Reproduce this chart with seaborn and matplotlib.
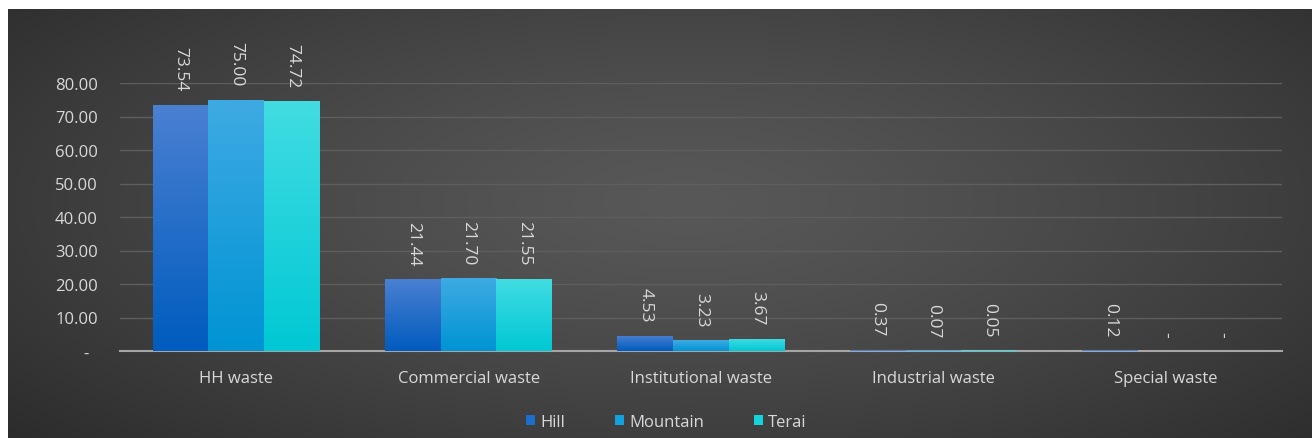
import numpy as np
import pandas as pd
import matplotlib
matplotlib.use("Agg")
import matplotlib.pyplot as plt
from matplotlib.colors import LinearSegmentedColormap
from matplotlib.patches import Patch
import seaborn as sns

categories = ["HH waste", "Commercial waste", "Institutional waste", "Industrial waste", "Special waste"]
series = ["Hill", "Mountain", "Terai"]
hill = [73.54, 21.44, 4.53, 0.37, 0.12]
mountain = [75.00, 21.70, 3.23, 0.07, 0.00]
terai = [74.72, 21.55, 3.67, 0.05, 0.00]
yticks = [0, 10, 20, 30, 40, 50, 60, 70, 80]

df = pd.DataFrame({
    "category": categories * 3,
    "region": [s for s in series for _ in categories],
    "value": hill + mountain + terai,
})

sns.set_theme(style="white")
plt.rcParams["font.family"] = ["Open Sans", "DejaVu Sans"]

W, H = 1312, 439
fig = plt.figure(figsize=(W / 100, H / 100), dpi=100)
fig.patch.set_facecolor("white")

# background with radial gradient
bg = fig.add_axes([8 / W, 0, 1 - 8 / W, 1 - 10 / H], zorder=-5)
yy, xx = np.mgrid[0:1:300j, 0:1:900j]
r = np.sqrt(((xx - 0.52) / 0.75) ** 2 + ((yy - 0.45) / 0.9) ** 2)
r = np.clip(r, 0, 1)
light = np.array([0x58, 0x58, 0x58]) / 255
dark = np.array([0x27, 0x27, 0x27]) / 255
img = light[None, None, :] * (1 - r[..., None] ** 1.3) + dark[None, None, :] * (r[..., None] ** 1.3)
bg.imshow(img, aspect="auto", extent=[0, 1, 0, 1], origin="upper")
bg.set_axis_off()

ax = fig.add_axes([120 / W, 1 - 352 / H, (1282 - 120) / W, (352 - 84) / H])
ax.set_facecolor("none")

palette = {"Hill": "#1a6fcc", "Mountain": "#12a2dd", "Terai": "#14d3dc"}
grads = {
    "Hill": ("#4a80d2", "#005cbe"),
    "Mountain": ("#3eaae3", "#0094d4"),
    "Terai": ("#42dce2", "#00c8d4"),
}
sns.barplot(data=df, x="category", y="value", hue="region", order=categories,
            hue_order=series, palette=palette, width=0.72, ax=ax, legend=False,
            saturation=1, linewidth=0)

ax.set_ylim(0, 80)
ax.set_xlim(-0.5, len(categories) - 0.5)

# gradients on bars, labels
for cont, s in zip(ax.containers, series):
    cmap = LinearSegmentedColormap.from_list(s, [grads[s][1], grads[s][0]])
    for bar, v in zip(cont, df[df.region == s]["value"]):
        x0 = bar.get_x()
        w = bar.get_width()
        h = bar.get_height()
        bar.set_zorder(3)
        if h > 1.0:
            grad = np.linspace(0, 1, 100).reshape(-1, 1)
            im = ax.imshow(grad, cmap=cmap, aspect="auto", origin="lower",
                           extent=[x0, x0 + w, 0, h], zorder=3)
            im.set_clip_path(bar)
            bar.set_alpha(0)
        elif h > 0:
            bar.set_height(max(h, 0.25))
            bar.set_facecolor(grads[s][0])
        txt = f"{v:.2f}" if v > 0 else "-"
        ax.annotate(txt, (x0 + w / 2, h), xytext=(0, 10), textcoords="offset points",
                    rotation=270, ha="center", va="bottom", color="#d9d9d9",
                    fontsize=12.5, annotation_clip=False, zorder=4)

ax.set_xlim(-0.5, len(categories) - 0.5)
ax.set_ylim(0, 80)
ax.set_yticks(yticks)
ax.set_yticklabels([f"{t:.2f}" if t > 0 else "-  " for t in yticks])
ax.yaxis.grid(True, color="#5e5e5e", linewidth=1)
ax.set_axisbelow(True)
for sp in ["top", "right", "left"]:
    ax.spines[sp].set_visible(False)
ax.spines["bottom"].set_color("#a6a6a6")
ax.spines["bottom"].set_linewidth(1.5)
ax.spines["bottom"].set_zorder(2)
ax.tick_params(axis="both", length=0, colors="#d9d9d9", labelsize=12)
ax.tick_params(axis="x", pad=14)
ax.tick_params(axis="y", pad=16)
for lbl in ax.get_yticklabels():
    lbl.set_horizontalalignment("right")
ax.set_xlabel("")
ax.set_ylabel("")

handles = [Patch(facecolor=palette[s], edgecolor="none", label=s) for s in series]
leg = fig.legend(handles=handles, loc="center", bbox_to_anchor=(0.508, 1 - 423 / H),
                 ncol=3, frameon=False, fontsize=12, handlelength=0.55, handleheight=0.55,
                 columnspacing=3.0, handletextpad=0.3)
for t in leg.get_texts():
    t.set_color("#d9d9d9")

fig.savefig("out.png", dpi=100)
